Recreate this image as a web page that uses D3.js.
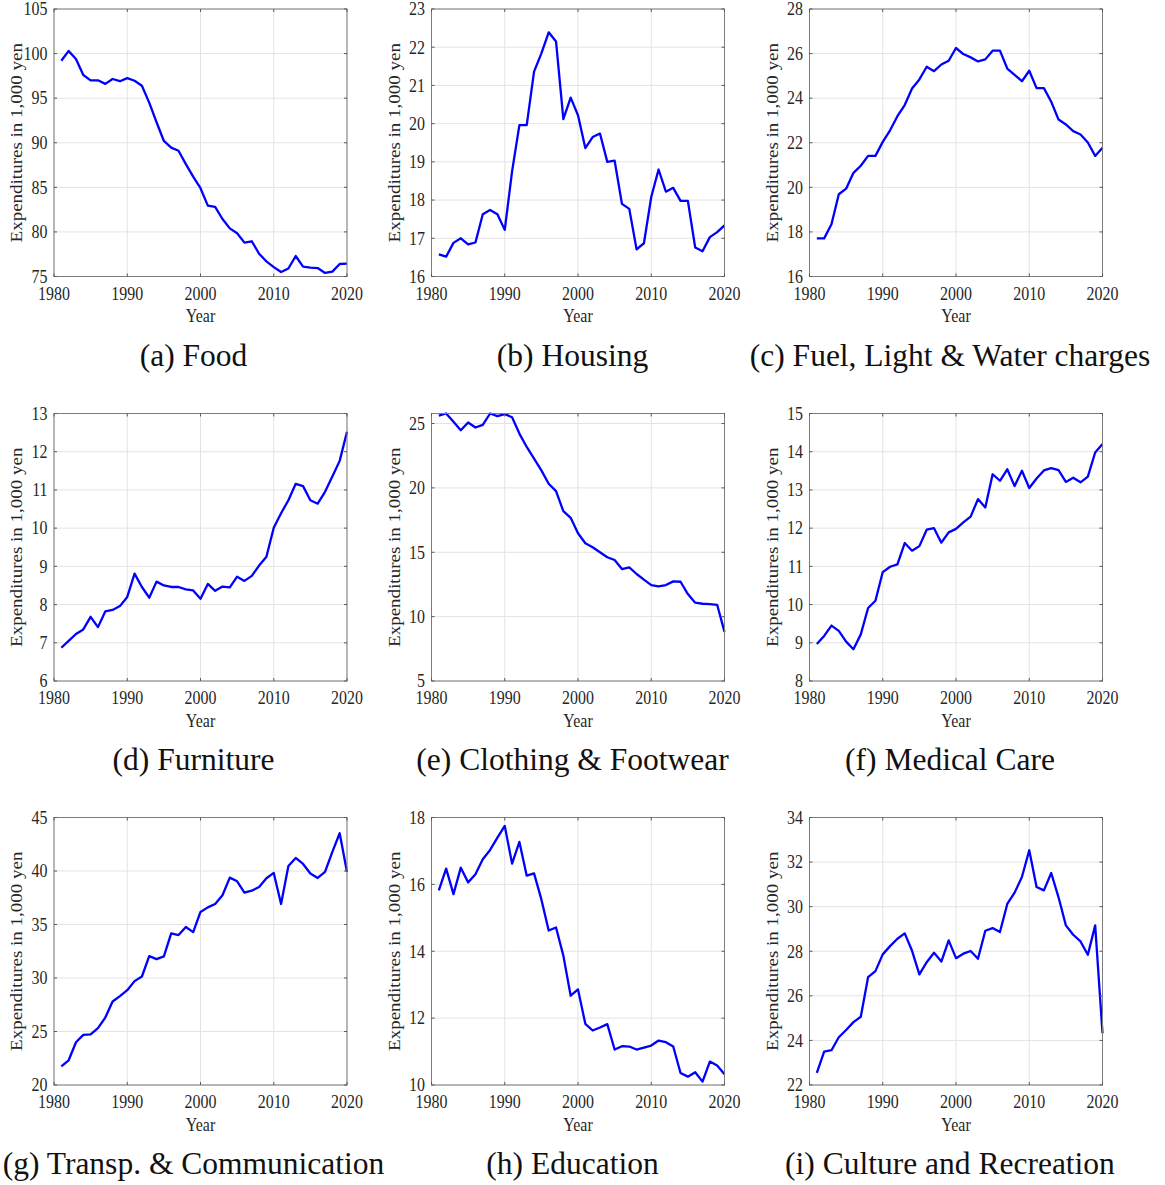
<!DOCTYPE html>
<html>
<head>
<meta charset="utf-8">
<script src="https://cdn.jsdelivr.net/npm/d3@7"></script>
<style>
  html, body { margin: 0; padding: 0; background: #fff; }
  svg { display: block; }
</style>
</head>
<body>
<script>
// Annual household expenditures by category, 1981–2020 (in 1,000 yen)
const years = d3.range(1981, 2021);

const food = [99.2, 100.3, 99.4, 97.6, 97.0, 97.0, 96.6, 97.15, 96.9, 97.25,
  96.95, 96.4, 94.5, 92.3, 90.2, 89.45, 89.1, 87.6, 86.2, 84.9,
  82.95, 82.8, 81.45, 80.4, 79.85, 78.8, 78.95, 77.55, 76.7, 76.05,
  75.5, 75.9, 77.3, 76.1, 76.0, 75.95, 75.4, 75.55, 76.4, 76.45];

const housing = [16.58, 16.52, 16.88, 17.0, 16.84, 16.89, 17.63, 17.74, 17.63, 17.22,
  18.75, 19.96, 19.96, 21.36, 21.84, 22.39, 22.15, 20.12, 20.68, 20.22,
  19.36, 19.65, 19.74, 19.0, 19.03, 17.9, 17.77, 16.71, 16.87, 18.08,
  18.8, 18.22, 18.32, 17.98, 17.98, 16.76, 16.66, 17.03, 17.16, 17.34];

const fuelLightWater = [17.71, 17.71, 18.34, 19.69, 19.94, 20.65, 20.97, 21.41, 21.41, 22.04,
  22.56, 23.19, 23.69, 24.43, 24.84, 25.41, 25.21, 25.51, 25.68, 26.25,
  25.98, 25.83, 25.65, 25.74, 26.13, 26.13, 25.33, 25.05, 24.76, 25.23,
  24.45, 24.45, 23.84, 23.04, 22.82, 22.52, 22.37, 22.01, 21.41, 21.78];

const furniture = [6.87, 7.05, 7.23, 7.35, 7.68, 7.41, 7.82, 7.86, 7.96, 8.2,
  8.81, 8.46, 8.18, 8.6, 8.5, 8.46, 8.46, 8.4, 8.37, 8.15,
  8.54, 8.36, 8.47, 8.45, 8.73, 8.62, 8.75, 9.02, 9.25, 10.01,
  10.39, 10.73, 11.16, 11.1, 10.73, 10.64, 10.95, 11.35, 11.76, 12.52];

const clothing = [25.62, 25.78, 25.13, 24.48, 25.08, 24.69, 24.9, 25.78, 25.57, 25.73,
  25.49, 24.22, 23.18, 22.27, 21.36, 20.32, 19.75, 18.19, 17.68, 16.48,
  15.7, 15.39, 15.0, 14.61, 14.4, 13.7, 13.83, 13.31, 12.87, 12.45,
  12.35, 12.45, 12.74, 12.71, 11.75, 11.08, 11.0, 10.97, 10.92, 8.82];

const medical = [8.97, 9.18, 9.45, 9.31, 9.03, 8.83, 9.22, 9.91, 10.1, 10.85,
  10.99, 11.05, 11.61, 11.41, 11.53, 11.96, 12.0, 11.62, 11.89, 11.98,
  12.15, 12.3, 12.76, 12.54, 13.41, 13.24, 13.54, 13.1, 13.5, 13.05,
  13.3, 13.51, 13.57, 13.52, 13.21, 13.32, 13.2, 13.35, 13.98, 14.2];

const transport = [21.75, 22.31, 23.99, 24.68, 24.74, 25.31, 26.3, 27.8, 28.3, 28.86,
  29.71, 30.14, 32.05, 31.77, 32.02, 34.17, 34.01, 34.76, 34.29, 36.17,
  36.6, 36.92, 37.73, 39.38, 39.04, 37.98, 38.16, 38.51, 39.32, 39.82,
  36.92, 40.47, 41.22, 40.66, 39.76, 39.35, 39.91, 41.79, 43.53, 39.91];

const education = [15.82, 16.47, 15.71, 16.5, 16.06, 16.3, 16.75, 17.03, 17.4, 17.75,
  16.62, 17.27, 16.26, 16.33, 15.55, 14.62, 14.71, 13.87, 12.67, 12.86,
  11.83, 11.63, 11.72, 11.82, 11.06, 11.16, 11.15, 11.06, 11.12, 11.18,
  11.33, 11.28, 11.15, 10.36, 10.25, 10.38, 10.1, 10.7, 10.58, 10.32];

const culture = [22.54, 23.5, 23.56, 24.14, 24.47, 24.82, 25.06, 26.84, 27.11, 27.86,
  28.23, 28.56, 28.8, 28.02, 26.96, 27.51, 27.93, 27.54, 28.49, 27.69,
  27.89, 28.01, 27.66, 28.92, 29.04, 28.86, 30.12, 30.63, 31.33, 32.53,
  30.88, 30.73, 31.51, 30.42, 29.16, 28.74, 28.44, 27.84, 29.16, 24.32];

const captions = ["(a) Food", "(b) Housing", "(c) Fuel, Light & Water charges",
  "(d) Furniture", "(e) Clothing & Footwear", "(f) Medical Care",
  "(g) Transp. & Communication", "(h) Education", "(i) Culture and Recreation"];

const xTicks = [1980, 1990, 2000, 2010, 2020];
const xDomain = [1980, 2020];

// y axis limits and tick values of each panel
const yDomains = [[75, 105], [16, 23], [16, 28], [6, 13], [5, d3.max(clothing)],
  [8, 15], [20, 45], [10, 18], [22, 34]];
const yTicks = [
  [75, 80, 85, 90, 95, 100, 105],
  [16, 17, 18, 19, 20, 21, 22, 23],
  [16, 18, 20, 22, 24, 26, 28],
  [6, 7, 8, 9, 10, 11, 12, 13],
  [5, 10, 15, 20, 25],
  [8, 9, 10, 11, 12, 13, 14, 15],
  [20, 25, 30, 35, 40, 45],
  [10, 12, 14, 16, 18],
  [22, 24, 26, 28, 30, 32, 34]];

const series = [food, housing, fuelLightWater, furniture, clothing, medical,
  transport, education, culture];

const yLabel = "Expenditures in 1,000 yen";
const xLabel = "Year";

// ---- layout ----
const W = 1165, H = 1185;
const colLeft = [54, 431.5, 809.5];
const rowTop = [9, 413.5, 817.5];
const pw = 293, ph = 267.5;
const captionCenter = [193.5, 572.5, 950];
const captionBaseline = [366, 770, 1174];
const squeeze = 0.84;               // horizontal compression of the axis text
const axisFont = "'Liberation Serif', 'Times New Roman', serif";
const captionFont = "'Liberation Serif', 'Times New Roman', serif";

const svg = d3.select("body").append("svg")
  .attr("width", W).attr("height", H)
  .attr("viewBox", `0 0 ${W} ${H}`);

series.forEach((vals, i) => {
  const col = i % 3, row = Math.floor(i / 3);
  const x0 = colLeft[col], y0 = rowTop[row];

  const x = d3.scaleLinear().domain(xDomain).range([0, pw]);
  const y = d3.scaleLinear().domain(yDomains[i]).range([ph, 0]);

  const g = svg.append("g").attr("transform", `translate(${x0},${y0})`);

  // grid
  g.append("g").selectAll("line.vg").data(xTicks).join("line")
    .attr("x1", d => x(d)).attr("x2", d => x(d))
    .attr("y1", 0).attr("y2", ph)
    .attr("stroke", "#e3e3e3").attr("stroke-width", 1);
  g.append("g").selectAll("line.hg").data(yTicks[i]).join("line")
    .attr("x1", 0).attr("x2", pw)
    .attr("y1", d => y(d)).attr("y2", d => y(d))
    .attr("stroke", "#e3e3e3").attr("stroke-width", 1);

  // data line
  const line = d3.line().x((d, k) => x(years[k])).y(d => y(d));
  g.append("path").datum(vals)
    .attr("d", line)
    .attr("fill", "none")
    .attr("stroke", "#0000ff")
    .attr("stroke-width", 2.3)
    .attr("stroke-linejoin", "round");

  // box and inward ticks on all four sides
  const tl = 3;
  g.append("rect").attr("x", 0).attr("y", 0).attr("width", pw).attr("height", ph)
    .attr("fill", "none").attr("stroke", "#7d7d7d").attr("stroke-width", 1);
  const tk = g.append("g").attr("stroke", "#5a5a5a").attr("stroke-width", 1);
  xTicks.forEach(t => {
    tk.append("line").attr("x1", x(t)).attr("x2", x(t)).attr("y1", ph).attr("y2", ph - tl);
    tk.append("line").attr("x1", x(t)).attr("x2", x(t)).attr("y1", 0).attr("y2", tl);
  });
  yTicks[i].forEach(t => {
    tk.append("line").attr("x1", 0).attr("x2", tl).attr("y1", y(t)).attr("y2", y(t));
    tk.append("line").attr("x1", pw).attr("x2", pw - tl).attr("y1", y(t)).attr("y2", y(t));
  });

  // x tick labels
  g.append("g").selectAll("text").data(xTicks).join("text")
    .attr("transform", d => `translate(${x(d)},${ph + 23}) scale(${squeeze},1)`)
    .attr("text-anchor", "middle")
    .attr("font-family", axisFont).attr("font-size", 19)
    .attr("fill", "#262626")
    .text(d => d);

  // y tick labels
  g.append("g").selectAll("text").data(yTicks[i]).join("text")
    .attr("transform", d => `translate(-6.5,${y(d) + 6.3}) scale(${squeeze},1)`)
    .attr("text-anchor", "end")
    .attr("font-family", axisFont).attr("font-size", 19)
    .attr("fill", "#262626")
    .text(d => d);

  // axis titles
  g.append("text")
    .attr("transform", `translate(${pw / 2},${ph + 45.5}) scale(${squeeze},1)`)
    .attr("text-anchor", "middle")
    .attr("font-family", axisFont).attr("font-size", 19)
    .attr("fill", "#262626")
    .text(xLabel);
  g.append("text")
    .attr("transform", `translate(-32,${ph / 2}) scale(${squeeze},1) rotate(-90)`)
    .attr("text-anchor", "middle")
    .attr("font-family", axisFont).attr("font-size", 19)
    .attr("fill", "#262626")
    .text(yLabel);

  // sub-figure caption
  svg.append("text")
    .attr("x", captionCenter[col]).attr("y", captionBaseline[row])
    .attr("text-anchor", "middle")
    .attr("font-family", captionFont).attr("font-size", 31.5)
    .attr("fill", "#111")
    .text(captions[i]);
});
</script>
</body>
</html>
